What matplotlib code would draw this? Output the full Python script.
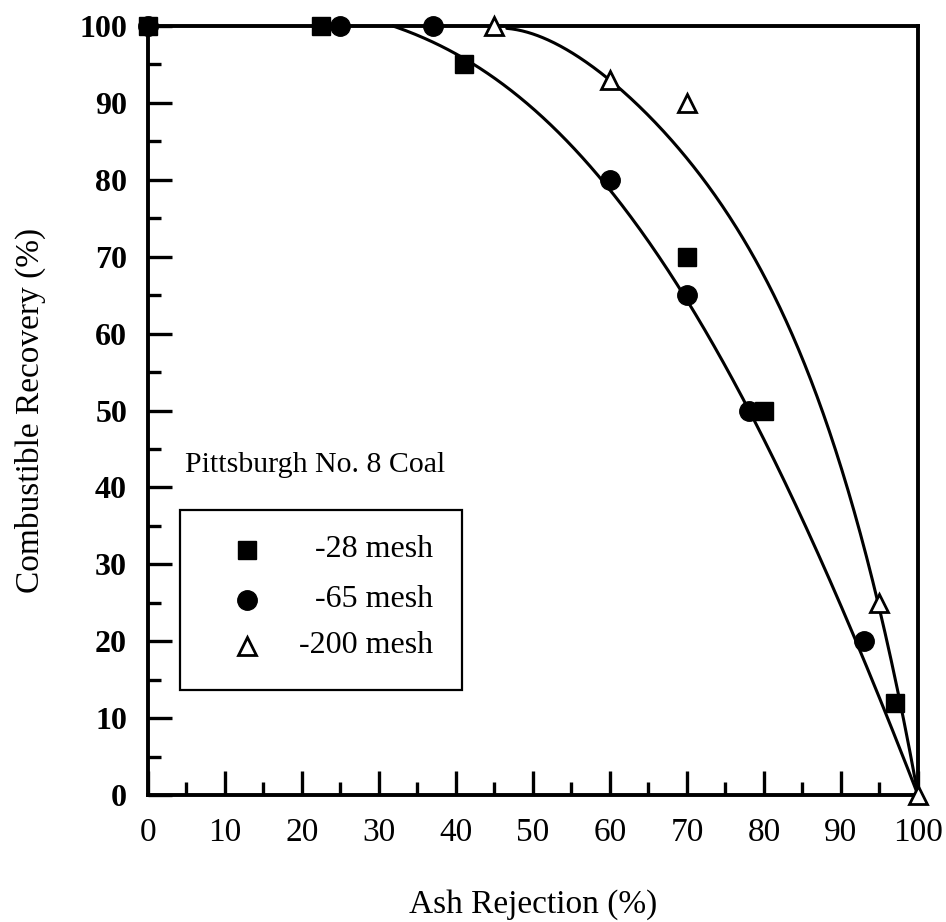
import numpy as np
import matplotlib
matplotlib.use("Agg")
import matplotlib.pyplot as plt
from matplotlib.patches import Rectangle

plt.rcParams['font.family'] = ['Liberation Serif', 'DejaVu Serif']

# Measured flotation results: ash rejection (%) vs combustible recovery (%)
mesh28_x = [0, 22.5, 41, 70, 80, 97]
mesh28_y = [100, 100, 95, 70, 50, 12]
mesh65_x = [0, 25, 37, 60, 70, 78, 93]
mesh65_y = [100, 100, 100, 80, 65, 50, 20]
mesh200_x = [45, 60, 70, 95, 100]
mesh200_y = [100, 93, 90, 25, 0]

# Trend curves (points along each fitted line)
trend_coarse_x = [31.8, 36.6, 43.1, 49.6, 56.1, 60.4, 64.8, 69.5, 77.8, 82.1, 87.7, 92.7, 100.0]
trend_coarse_y = [100.0, 98.9, 94.2, 89.1, 83.0, 78.7, 72.8, 65.0, 50.1, 42.0, 29.5, 18.8, 0.0]
trend_fine_x = [46.6, 51.8, 56.1, 60.4, 64.8, 69.1, 76.0, 80.4, 84.7, 89.3, 92.1, 94.7, 100.0]
trend_fine_y = [99.7, 97.8, 95.6, 92.6, 89.1, 84.3, 74.4, 66.0, 57.0, 45.2, 36.0, 25.5, 0.0]

series_labels = ['-28 mesh', '-65 mesh', '-200 mesh']
x_ticks = list(range(0, 101, 10))
y_ticks = list(range(0, 101, 10))


def smooth(xs, ys, deg):
    """Weighted least-squares polynomial through the traced curve."""
    xs = np.asarray(xs, float)
    ys = np.asarray(ys, float)
    w = np.ones_like(xs)
    w[0] = w[-1] = 8.0
    c = np.polyfit(xs, ys, deg, w=w)
    xx = np.linspace(xs[0], xs[-1], 400)
    return xx, np.minimum(np.polyval(c, xx), 100.0)


fig = plt.figure(figsize=(9.46, 9.22), dpi=100)
ax = fig.add_axes([0.1564, 0.1377, 0.8140, 0.8341])
ax.set_xlim(0, 100)
ax.set_ylim(0, 100)

for tx, ty in [(trend_coarse_x, trend_coarse_y), (trend_fine_x, trend_fine_y)]:
    xx, yy = smooth(tx, ty, 4)
    ax.plot(xx, yy, color='black', lw=2.2, zorder=2, clip_on=False,
            solid_capstyle='round')

sq_kw = dict(marker='s', ms=12.5, color='black', ls='none', clip_on=False, zorder=4)
ci_kw = dict(marker='o', ms=14, color='black', ls='none', clip_on=False, zorder=4)
tr_kw = dict(marker='^', ms=13, mfc='white', mec='black', mew=2, ls='none',
             clip_on=False, zorder=5)

ax.plot(mesh28_x, mesh28_y, **sq_kw)
ax.plot(mesh65_x, mesh65_y, **ci_kw)
ax.plot(mesh200_x, mesh200_y, **tr_kw)

# Spines and ticks
for s in ax.spines.values():
    s.set_linewidth(2.8)
ax.set_xticks(x_ticks)
ax.set_yticks(y_ticks)
ax.set_xticks(np.arange(5, 100, 10), minor=True)
ax.set_yticks(np.arange(5, 100, 10), minor=True)
ax.tick_params(which='major', direction='in', length=17, width=2.4,
               top=False, right=False)
ax.tick_params(which='minor', direction='in', length=9.5, width=2.4,
               top=False, right=False)
ax.tick_params(axis='x', labelsize=24, pad=16)
ax.tick_params(axis='y', labelsize=23, pad=15)
for lab in ax.get_yticklabels():
    lab.set_fontweight('bold')

ax.set_xlabel('Ash Rejection (%)', fontsize=24, labelpad=30)
ax.set_ylabel('Combustible Recovery (%)', fontsize=24, labelpad=24)

ax.text(4.8, 42.9, 'Pittsburgh No. 8 Coal', fontsize=21.5, va='center', ha='left')

# Key box
ax.add_patch(Rectangle((4.2, 13.7), 36.6, 23.4, fill=False, lw=1.6,
                       edgecolor='black', zorder=3))
key_y = [31.9, 25.4, 19.4]
key_styles = [sq_kw, ci_kw, tr_kw]
for ky, kw, lab in zip(key_y, key_styles, series_labels):
    k = dict(kw)
    k['zorder'] = 5
    ax.plot([12.9], [ky], **k)
    ax.text(37.0, ky, lab, fontsize=23, ha='right', va='center')

fig.savefig('out.png', dpi=100, facecolor='white')
